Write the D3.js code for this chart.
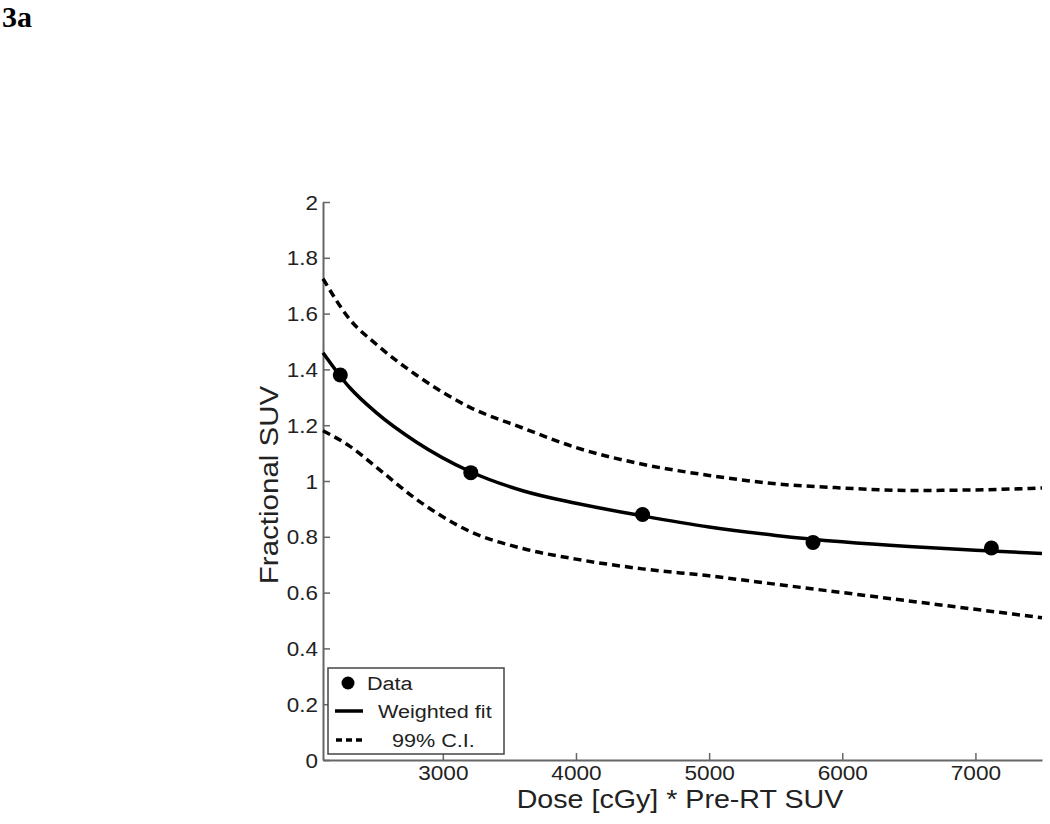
<!DOCTYPE html>
<html>
<head>
<meta charset="utf-8">
<script src="https://cdn.jsdelivr.net/npm/d3@7"></script>
<style>
  body { margin: 0; background: #fff; }
  svg text { font-family: "Liberation Sans", Arial, sans-serif; fill: #222; }
</style>
</head>
<body>
<svg id="chart" width="1050" height="824"></svg>
<script>
// data
var dataDose = [2230, 3210, 4500, 5780, 7120];
var dataSuv = [1.38, 1.03, 0.88, 0.78, 0.76];

var curveDose = [2100, 2300, 2500, 2800, 3200, 3600, 4000, 4500, 5000, 5500, 6000, 6500, 7000, 7500];
var fitSuv =    [1.46, 1.335, 1.245, 1.14, 1.035, 0.965, 0.92, 0.875, 0.835, 0.805, 0.782, 0.765, 0.752, 0.74];
var upperSuv =  [1.725, 1.58, 1.49, 1.38, 1.265, 1.19, 1.12, 1.06, 1.02, 0.99, 0.975, 0.966, 0.968, 0.975];
var lowerSuv =  [1.18, 1.125, 1.05, 0.935, 0.82, 0.758, 0.72, 0.685, 0.66, 0.63, 0.60, 0.57, 0.54, 0.51];

var xTicks = [3000, 4000, 5000, 6000, 7000];
var yTicks = [0, 0.2, 0.4, 0.6, 0.8, 1, 1.2, 1.4, 1.6, 1.8, 2];
var legendLabels = ["Data", "Weighted fit", "99% C.I."];

var svg = d3.select("#chart");

var x = d3.scaleLinear().domain([2100, 7500]).range([323, 1042]);
var y = d3.scaleLinear().domain([0, 2]).range([760, 202]);

// the original lettering is a bit wider than Arial
function stretch(sel, k) {
    sel.each(function() {
        var w = this.getComputedTextLength();
        d3.select(this).attr("textLength", w * k).attr("lengthAdjust", "spacingAndGlyphs");
    });
}

// panel label
svg.append("text")
    .attr("x", 2).attr("y", 27)
    .style("font-family", "'Liberation Serif', 'Times New Roman', serif")
    .style("font-weight", "bold")
    .style("font-size", "30px")
    .style("fill", "#000")
    .text("3a");

// axes (ticks point inward)
var yAxis = svg.append("g")
    .attr("transform", "translate(323,0)")
    .call(d3.axisLeft(y).tickValues(yTicks).tickSizeInner(-7).tickSizeOuter(0).tickPadding(5)
        .tickFormat(function(d) { return d3.format("")(d); }));
yAxis.selectAll("text").style("font-size", "20px").attr("dy", "0.35em").call(stretch, 1.12);

var xAxis = svg.append("g")
    .attr("transform", "translate(0,760)")
    .call(d3.axisBottom(x).tickValues(xTicks).tickSizeInner(-7).tickSizeOuter(0).tickPadding(6)
        .tickFormat(d3.format("d")));
xAxis.selectAll("text").style("font-size", "20px").call(stretch, 1.13);

svg.selectAll(".domain").attr("stroke", "#666").attr("stroke-width", 2);
svg.selectAll(".tick line").attr("stroke", "#666").attr("stroke-width", 1.5);

// axis titles
svg.append("text")
    .attr("transform", "translate(278,485) rotate(-90)")
    .attr("text-anchor", "middle")
    .style("font-size", "25px")
    .text("Fractional SUV")
    .call(stretch, 1.18);

svg.append("text")
    .attr("x", 680).attr("y", 808)
    .attr("text-anchor", "middle")
    .style("font-size", "25px")
    .text("Dose [cGy] * Pre-RT SUV")
    .call(stretch, 1.145);

// curves
var line = d3.line()
    .x(function(d) { return x(d[0]); })
    .y(function(d) { return y(d[1]); })
    .curve(d3.curveMonotoneX);

function pairs(vals) {
    return curveDose.map(function(d, i) { return [d, vals[i]]; });
}

svg.append("path")
    .attr("d", line(pairs(upperSuv)))
    .attr("fill", "none").attr("stroke", "#000")
    .attr("stroke-width", 3.5).attr("stroke-dasharray", "8,5");

svg.append("path")
    .attr("d", line(pairs(lowerSuv)))
    .attr("fill", "none").attr("stroke", "#000")
    .attr("stroke-width", 3.5).attr("stroke-dasharray", "8,5");

svg.append("path")
    .attr("d", line(pairs(fitSuv)))
    .attr("fill", "none").attr("stroke", "#000")
    .attr("stroke-width", 3.5);

svg.selectAll(".pt")
    .data(dataDose)
    .enter().append("circle")
    .attr("class", "pt")
    .attr("cx", function(d) { return x(d); })
    .attr("cy", function(d, i) { return y(dataSuv[i]); })
    .attr("r", 7.5)
    .attr("fill", "#000");

// legend
var lg = svg.append("g");
lg.append("rect")
    .attr("x", 328).attr("y", 668)
    .attr("width", 176).attr("height", 86)
    .attr("fill", "#fff").attr("stroke", "#444").attr("stroke-width", 1.5);

lg.append("circle").attr("cx", 348).attr("cy", 683).attr("r", 6.5).attr("fill", "#000");
lg.append("line").attr("x1", 335).attr("x2", 363).attr("y1", 711).attr("y2", 711)
    .attr("stroke", "#000").attr("stroke-width", 3.5);
lg.append("line").attr("x1", 336).attr("x2", 363).attr("y1", 740).attr("y2", 740)
    .attr("stroke", "#000").attr("stroke-width", 3.5).attr("stroke-dasharray", "6,4");

var lx = [367, 378, 392];
var ly = [690, 718, 747];
lg.selectAll(".lt")
    .data(legendLabels)
    .enter().append("text")
    .attr("class", "lt")
    .attr("x", function(d, i) { return lx[i]; })
    .attr("y", function(d, i) { return ly[i]; })
    .style("font-size", "18px")
    .text(function(d) { return d; })
    .call(stretch, 1.2);
</script>
</body>
</html>
